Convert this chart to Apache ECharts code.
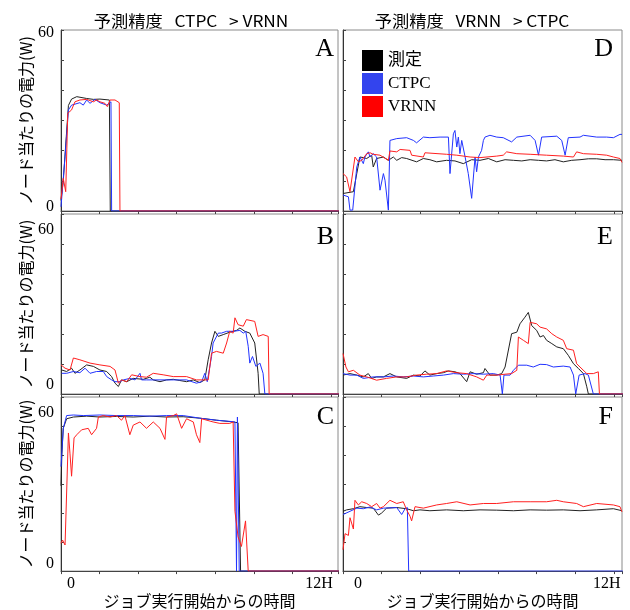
<!DOCTYPE html>
<html>
<head>
<meta charset="utf-8">
<script src="https://cdn.jsdelivr.net/npm/echarts@6/dist/echarts.min.js"></script>
<style>
  html, body { margin: 0; padding: 0; background: #fff; }
  #chart { width: 630px; height: 610px; }
</style>
</head>
<body>
<div id="chart"></div>
<script>
// 時間[h], ノード当たりの電力[W]
const seriesNames = ['測定', 'CTPC', 'VRNN'];
const panelLetters = ['A', 'B', 'C', 'D', 'E', 'F'];
const xTickLabels = ['0', '', '', '', '', '', '', '12H'];
const yTickLabels = { 0: '0', 60: '60' };
const titles = ['予測精度   CTPC   > VRNN', '予測精度   VRNN   > CTPC'];
const yName = 'ノード当たりの電力(W)';
const xName = 'ジョブ実行開始からの時間';

const A_meas = [[0,3.5],[0.1,10],[0.33,35],[0.47,37.1],[0.7,37.9],[1.14,37.3],[1.44,37],[1.73,37.1],[2.15,36.8],[2.19,0],[12.4,0]];
const A_ctpc = [[0,1.4],[0.18,18],[0.33,33.5],[0.47,35.1],[0.84,35.9],[0.99,35.1],[1.14,36.8],[1.29,35.7],[1.51,37],[1.73,35.9],[2.03,35.1],[2.22,36.2],[2.25,0],[12.4,0]];
const A_vrnn = [[0,4],[0.1,10.8],[0.21,6.4],[0.25,6.2],[0.3,32.4],[0.47,33.5],[0.62,36.2],[0.84,36.8],[1.14,37],[1.44,36.2],[1.58,36.8],[1.73,36.2],[1.95,35.7],[2.06,34.6],[2.18,36.8],[2.4,36.8],[2.59,35.9],[2.62,0],[12.4,0]];

const B_meas = [[0.03,8],[0.25,7.5],[0.47,8.6],[0.62,6.9],[0.84,8],[1.14,9.7],[1.44,9.2],[1.73,8],[2.03,7.5],[2.25,5.8],[2.4,3.6],[2.55,2.5],[2.69,4.7],[2.92,4.1],[3.21,5.2],[3.66,4.9],[3.95,5.6],[4.1,4.7],[4.4,4.1],[4.69,4.7],[4.99,4.9],[5.28,4.5],[5.58,4.1],[5.88,4.7],[6.17,3.8],[6.39,4.7],[6.54,11.4],[6.69,17],[6.84,20.9],[6.99,19.2],[7.21,19.8],[7.5,20.6],[7.8,21.2],[7.95,22],[8.17,20.9],[8.39,20.3],[8.61,17],[8.76,6.9],[8.81,0],[12.4,0]];
const B_ctpc = [[0.03,6.9],[0.25,6.9],[0.55,7.5],[0.84,7.1],[1.07,8.6],[1.29,6.9],[1.58,7.5],[1.88,7.5],[2.03,5.8],[2.25,4.7],[2.4,4.1],[2.62,4.1],[2.77,4.7],[3.06,5.2],[3.29,4.7],[3.51,6.9],[3.58,4.7],[3.8,4.7],[4.4,4.7],[4.99,4.7],[5.58,4.7],[6.02,3.6],[6.25,4.1],[6.39,6.9],[6.5,4.1],[6.69,12.5],[6.76,17],[6.84,16.4],[6.99,20.3],[7.13,20.3],[7.36,20.9],[7.65,20.9],[7.95,21.2],[8.1,20.3],[8.21,20.9],[8.32,15.9],[8.39,10.3],[8.51,12.5],[8.66,9.2],[8.84,10.3],[8.98,6.9],[9.06,0],[12.4,0]];
const B_vrnn = [[0,9.7],[0.18,8.6],[0.4,8],[0.55,12],[0.84,11.4],[1.29,10.3],[1.73,9.7],[2.18,9.2],[2.4,8],[2.55,3.6],[2.69,4.7],[2.92,4.1],[3.14,6.4],[3.51,5.8],[3.8,5.6],[4.1,6.9],[4.54,6.4],[4.99,5.8],[5.58,5.8],[6.02,4.7],[6.54,4.7],[6.69,13.6],[6.91,14.2],[7.21,13.6],[7.36,17],[7.5,20.9],[7.65,20.3],[7.73,25.4],[7.87,23.1],[8.1,22.6],[8.24,24.8],[8.61,24.2],[8.76,19.2],[8.98,19.8],[9.21,19.2],[9.25,0],[12.4,0]];

const C_meas = [[0,29.4],[0.04,40.4],[0.1,49.2],[0.25,52.5],[0.55,53.1],[1.14,53.4],[1.73,53.1],[2.47,53.3],[3.21,53.1],[3.95,53.4],[4.69,53.1],[5.43,53.2],[6.17,52.7],[6.91,52],[7.65,51.4],[7.87,51.1],[7.98,0],[12.4,0]];
const C_ctpc = [[0,36],[0.1,49.2],[0.25,53.6],[0.55,53.8],[0.99,53.6],[1.73,53.8],[2.47,53.6],[3.21,53.6],[3.95,53.4],[4.69,53.6],[5.43,53.6],[6.17,52.7],[6.91,52],[7.5,51.6],[7.73,51.4],[7.8,0],[7.84,53.1],[7.92,0],[12.4,0]];
const C_vrnn = [[0,9.6],[0.07,10.7],[0.18,9],[0.33,47.6],[0.4,40.4],[0.47,32.7],[0.58,45.9],[0.7,47],[0.92,48.7],[1.21,49.2],[1.36,47],[1.58,49.2],[1.66,53.1],[1.88,53.6],[2.18,53.1],[2.47,53.6],[2.69,52],[2.84,53.6],[3.06,47],[3.21,50.3],[3.51,51.4],[3.8,49.2],[4.1,51.4],[4.4,49.2],[4.62,45.4],[4.69,53.1],[4.99,53.6],[5.14,54.2],[5.36,49.2],[5.58,52.5],[5.88,51.4],[6.02,47],[6.17,44.3],[6.25,52.5],[6.76,51.4],[7.06,50.9],[7.5,50.9],[7.65,51.4],[7.73,20.6],[7.87,11.8],[8.02,8.5],[8.2,17.3],[8.32,0],[12.4,0]];

const D_meas = [[0,5.8],[0.46,6.4],[0.61,12.4],[0.75,17.9],[0.9,17.7],[1.05,17.4],[1.27,18.5],[1.34,14.6],[1.49,17.4],[1.79,17.9],[2.01,16.8],[2.23,17.9],[2.38,16.8],[2.6,17.7],[2.82,17.4],[3.26,16.3],[3.56,17.4],[3.85,17],[4.15,16.3],[4.59,16.8],[4.96,16.6],[5.33,15.7],[5.7,17],[6.07,16.8],[6.44,17.4],[6.81,16.3],[7.18,17],[7.55,16.8],[7.92,16.6],[8.29,17],[8.66,16.8],[9.02,16.6],[9.39,17],[9.76,16.3],[10.13,16.8],[10.5,17],[10.87,17.3],[11.24,17.3],[11.61,17],[11.98,17],[12.36,16.8]];
const D_ctpc = [[0,5.3],[0.24,4.7],[0.31,0.3],[0.43,0.3],[0.61,14.6],[0.75,17.9],[0.9,15.7],[0.97,17.9],[1.12,19.6],[1.2,17.9],[1.34,19],[1.49,17.9],[1.64,6.9],[1.79,12.4],[1.86,10.2],[2.01,0.3],[2.08,23.4],[2.16,22.9],[2.38,24],[2.82,24.3],[3.12,23.4],[3.26,22.6],[3.56,24.5],[3.85,24.3],[4.3,24.5],[4.67,24.5],[4.74,12.4],[4.89,25.6],[4.96,26.7],[5.04,21.2],[5.11,24.5],[5.18,19],[5.26,23.4],[5.41,17.9],[5.55,12.4],[5.7,4.2],[5.85,17.9],[5.92,13],[6,17.9],[6.14,20.1],[6.22,23.4],[6.29,24.5],[6.51,25.1],[6.81,24.5],[7.1,24.3],[7.47,22.9],[7.7,24.5],[8.29,25.1],[8.51,23.4],[8.66,18.5],[8.8,24.5],[9.47,24.8],[9.69,23.4],[9.84,18.5],[9.98,24.3],[10.5,24.5],[10.65,25.1],[11.24,24.5],[11.68,24.5],[11.98,24.3],[12.27,25.4],[12.36,25.4]];
const D_vrnn = [[0,12.4],[0.16,11.3],[0.31,6.4],[0.53,17.9],[0.68,16.3],[0.83,16.8],[1.05,19],[1.2,19.3],[1.34,18.8],[1.64,18.5],[2.01,16.8],[2.08,19.9],[2.38,19.6],[2.53,20.4],[2.97,20.1],[3.04,18.5],[3.56,17.9],[3.63,19.3],[4.59,18.8],[5.04,18.5],[5.63,17.9],[6.07,17.7],[6.81,18.2],[7.1,18.5],[7.25,19.6],[7.7,19],[8.29,18.8],[9.02,18.5],[9.76,18.2],[10.21,17.9],[10.35,19.6],[10.65,19],[11.24,18.8],[11.68,18.5],[11.98,17.9],[12.27,17.4],[12.36,16.1]];

const E_meas = [[0,6.3],[0.31,6.8],[0.61,6.3],[0.9,5.7],[1.12,6.8],[1.27,5.2],[1.49,5.7],[1.79,5.7],[2.08,6.8],[2.38,5.7],[2.82,5.2],[3.12,6.3],[3.41,6],[3.63,7.7],[3.85,6.3],[4.15,6.8],[4.45,7.1],[4.67,7.7],[4.96,7.4],[5.18,6.8],[5.48,4.1],[5.63,7.4],[5.92,6.6],[6.22,7.1],[6.29,8.5],[6.51,6.3],[6.81,6.3],[7.03,6.8],[7.18,9],[7.47,20.1],[7.7,20.6],[7.84,23.4],[8.06,25.6],[8.21,27.2],[8.36,22.8],[8.58,21.2],[8.73,19],[8.88,19.5],[9.02,17.9],[9.25,16.8],[9.47,15.7],[9.76,15.1],[9.98,12.9],[10.21,10.1],[10.43,8.5],[10.65,6.8],[10.8,2.4],[10.87,0],[12.4,0]];
const E_ctpc = [[0,6.8],[0.31,6.3],[0.61,6.3],[0.9,5.2],[1.34,5.7],[1.79,5.7],[2.23,6],[2.67,5.7],[3.12,6],[3.56,5.7],[4,6],[4.45,6.3],[4.89,6.8],[5.33,6.6],[5.78,6.8],[6.22,6.6],[6.66,6.8],[6.96,6.3],[7.06,0],[7.13,6.3],[7.4,6.3],[7.55,7.9],[7.77,9.6],[8.14,9.6],[8.43,9],[8.73,9.9],[9.02,9.8],[9.32,9],[9.76,9.3],[10.06,9],[10.21,6.3],[10.31,0],[10.38,0.2],[10.46,6.3],[10.72,6.8],[10.87,6.3],[11.09,0],[12.4,0]];
const E_vrnn = [[0,13.5],[0.13,9],[0.24,7.4],[0.46,7.9],[0.75,6.3],[1.05,5.7],[1.49,4.6],[1.93,5.2],[2.38,5.7],[2.82,5.7],[3.26,6.3],[3.71,6.6],[4.15,6.8],[4.59,7.7],[5.04,7.1],[5.48,6.8],[5.92,5.7],[6.22,4.6],[6.37,6.3],[6.81,6.3],[7.18,6.6],[7.47,6.8],[7.7,7.9],[7.77,19],[7.99,17.9],[8.21,16.8],[8.29,23.9],[8.58,23.4],[8.73,22.3],[9.02,21.7],[9.25,20.1],[9.47,19],[9.76,17.9],[9.91,15.1],[10.21,14.6],[10.35,10.1],[10.5,9],[10.8,6.8],[11.09,6.8],[11.31,7.4],[11.36,0],[12.4,0]];

const F_meas = [[0,20.6],[0.16,21.1],[0.46,21.5],[0.75,22.2],[1.05,21.9],[1.34,21.7],[1.57,19.3],[1.71,20],[1.93,21.7],[2.38,21.9],[2.82,21.5],[3.12,20.8],[3.41,21.1],[3.85,20.8],[4.59,21.1],[5.33,20.8],[6.07,21.1],[6.81,21],[7.55,20.8],[8.29,21.1],[9.02,21],[9.76,21.1],[10.5,20.8],[11.24,21.1],[11.98,21.5],[12.36,20.8]];
const F_ctpc = [[0,19.5],[0.31,20.6],[0.61,21.7],[0.9,21.5],[1.2,22.1],[1.49,21.1],[1.79,21.7],[2.38,21.9],[2.6,19.5],[2.75,21.5],[2.85,21.9],[2.91,0],[12.4,0]];
const F_vrnn = [[0,7.4],[0.09,12.9],[0.24,12.3],[0.31,18.4],[0.46,14.5],[0.53,24.4],[0.68,22.8],[0.83,23.9],[1.05,23.3],[1.27,22.2],[1.49,23.3],[1.64,21.7],[1.79,22.2],[2.08,24.4],[2.38,23.3],[2.67,23.9],[2.82,21.1],[2.97,18.9],[3.04,17.3],[3.19,22.2],[3.56,21.7],[4.15,22.8],[4.59,23.3],[5.04,23.9],[5.63,22.8],[6.22,23.3],[6.81,23.3],[7.55,23.9],[8.29,23.9],[9.02,23.9],[9.47,24.4],[9.76,23.9],[10.35,23.3],[10.65,22.2],[11.24,23.3],[11.98,22.8],[12.27,22.2],[12.36,20.4]];

const panelData = [
  [A_meas, A_ctpc, A_vrnn],
  [B_meas, B_ctpc, B_vrnn],
  [C_meas, C_ctpc, C_vrnn],
  [D_meas, D_ctpc, D_vrnn],
  [E_meas, E_ctpc, E_vrnn],
  [F_meas, F_ctpc, F_vrnn]
];

// layout
const SERIF = '"Liberation Serif", "Noto Sans CJK JP", serif';
const SANS = '"Noto Sans CJK JP", sans-serif';
const legendColors = ['#000000', '#3344ee', '#ff0000'];
const lineColors = ['#222222', '#2233ff', '#ff2020'];
const cols = [{ left: 61, width: 277, xmax: 12.31 }, { left: 343, width: 279, xmax: 12.36 }];
const rows = [{ top: 30, height: 181 }, { top: 214, height: 180 }, { top: 397, height: 182 }];
// label nudges: [60 down, 0 up] per row, [0 right, 12H left] per column
const yNudge = [[3, 4], [16, 9], [16, 7]];
const xNudge = [[10, 12], [15, 7]];
const letterTop = [36, 224, 404];

const grids = [], xAxes = [], yAxes = [], series = [], graphics = [];

for (let p = 0; p < 6; p++) {
  const c = Math.floor(p / 3), r = p % 3;
  const col = cols[c], row = rows[r];
  grids.push({
    left: col.left, top: row.top, width: col.width, height: row.height,
    show: true, borderColor: '#8a8a8a', borderWidth: 1, backgroundColor: '#fff'
  });
  const xn = xNudge[c];
  xAxes.push({
    type: 'value', gridIndex: p, min: 0, max: col.xmax, interval: 12 / 7,
    axisLine: { lineStyle: { color: '#444', width: 1 } },
    axisTick: { inside: false, length: 3, lineStyle: { color: '#444' } },
    splitLine: { show: false },
    axisLabel: {
      show: r === 2, margin: 5, color: '#000', fontFamily: SERIF, fontSize: 16,
      formatter: v => {
        const k = Math.round(v / (12 / 7));
        if (Math.abs(v / (12 / 7) - k) > 0.01 || !xTickLabels[k]) return '';
        return k === 0 ? '{s|' + xTickLabels[k] + '}' : '{e|' + xTickLabels[k] + '}';
      },
      rich: {
        s: { fontFamily: SERIF, fontSize: 16, color: '#000', padding: [0, 0, 0, xn[0] * 2] },
        e: { fontFamily: SERIF, fontSize: 16, color: '#000', padding: [0, xn[1] * 2, 0, 0] }
      }
    },
    name: r === 2 ? xName : '',
    nameLocation: 'middle', nameGap: 14,
    nameTextStyle: { fontFamily: SANS, fontSize: 16, color: '#000' }
  });
  const yn = yNudge[r];
  yAxes.push({
    type: 'value', gridIndex: p, min: 0, max: 60, interval: 10,
    axisLine: { show: true, lineStyle: { color: '#333', width: 1 } },
    axisTick: { show: true, inside: true, length: 3, lineStyle: { color: '#444' } },
    splitLine: { show: false },
    axisLabel: {
      show: c === 0, margin: 7, color: '#000', fontFamily: SERIF, fontSize: 16,
      formatter: v => {
        const lab = yTickLabels[v];
        if (!lab) return '';
        return v === 60 ? '{t|' + lab + '}' : '{b|' + lab + '}';
      },
      rich: {
        t: { fontFamily: SERIF, fontSize: 16, color: '#000', padding: [yn[0] * 2, 0, 0, 0] },
        b: { fontFamily: SERIF, fontSize: 16, color: '#000', padding: [0, 0, yn[1] * 2, 0] }
      }
    },
    name: c === 0 ? yName : '',
    nameLocation: 'middle', nameGap: 26,
    nameTextStyle: { fontFamily: SANS, fontSize: 16, color: '#000' }
  });
  panelData[p].forEach((d, s) => {
    series.push({
      type: 'line', name: seriesNames[s], xAxisIndex: p, yAxisIndex: p,
      data: d, showSymbol: false, symbol: 'none', z: 2 + s,
      lineStyle: { color: lineColors[s], width: 1 },
      itemStyle: { color: legendColors[s] },
      emphasis: { disabled: true }
    });
  });
  graphics.push({
    type: 'text', right: c === 0 ? 630 - 334 : 630 - 613, top: letterTop[r],
    style: { text: panelLetters[p], font: '26px "Liberation Serif"', fill: '#000' }
  });
}

graphics.push({
  type: 'text', x: 191, y: 21, scaleX: 1.08,
  style: { text: titles[0], font: '16px "Noto Sans CJK JP"', fill: '#000', textAlign: 'center', textVerticalAlign: 'middle' }
});
graphics.push({
  type: 'text', x: 472, y: 21, scaleX: 1.08,
  style: { text: titles[1], font: '16px "Noto Sans CJK JP"', fill: '#000', textAlign: 'center', textVerticalAlign: 'middle' }
});

const chart = echarts.init(document.getElementById('chart'));
chart.setOption({
  animation: false,
  backgroundColor: '#fff',
  grid: grids,
  xAxis: xAxes,
  yAxis: yAxes,
  legend: {
    orient: 'vertical', left: 357, top: 45, icon: 'rect',
    itemWidth: 21, itemHeight: 21, itemGap: 2,
    data: seriesNames.map((n, i) => ({ name: n, itemStyle: { color: legendColors[i] } })),
    textStyle: { fontFamily: SERIF, fontSize: 17, color: '#000' }
  },
  graphic: graphics,
  series: series
});
</script>
</body>
</html>
